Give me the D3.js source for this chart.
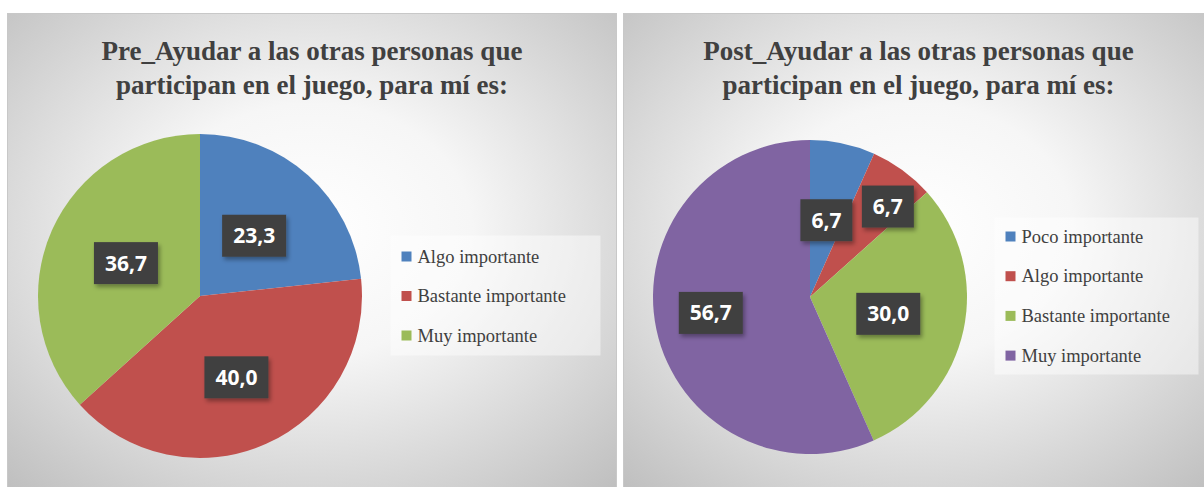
<!DOCTYPE html>
<html>
<head>
<meta charset="utf-8">
<script src="https://cdn.jsdelivr.net/npm/d3@7"></script>
<style>
  body { margin: 0; background: #fff; }
  svg { display: block; }
  .serif { font-family: "Liberation Serif", "Tinos", "DejaVu Serif", "Noto Serif", "Times New Roman", Times, serif; }
</style>
</head>
<body>
<svg id="chart"></svg>
<script>
// data
var preCategories = ["Algo importante", "Bastante importante", "Muy importante"];
var preValues = [23.3, 40.0, 36.7];
var preColors = ["#4F81BD", "#C0504D", "#9BBB59"];

var postCategories = ["Poco importante", "Algo importante", "Bastante importante", "Muy importante"];
var postValues = [6.7, 6.7, 30.0, 56.7];
var postColors = ["#4F81BD", "#C0504D", "#9BBB59", "#8064A2"];

var preTitle = ["Pre_Ayudar a las otras personas que", "participan en el juego, para mí es:"];
var postTitle = ["Post_Ayudar a las otras personas que", "participan en el juego, para mí es:"];

var svg = d3.select("#chart")
    .attr("width", 1204)
    .attr("height", 487);

var defs = svg.append("defs");
var grad = defs.append("radialGradient")
    .attr("id", "bg")
    .attr("cx", "50%").attr("cy", "45%").attr("r", "75%");
grad.append("stop").attr("offset", "0%").attr("stop-color", "#ffffff");
grad.append("stop").attr("offset", "35%").attr("stop-color", "#f6f6f6");
grad.append("stop").attr("offset", "100%").attr("stop-color", "#bdbdbd");

var shadow = defs.append("filter").attr("id", "shadow")
    .attr("x", "-20%").attr("y", "-20%").attr("width", "150%").attr("height", "160%");
shadow.append("feDropShadow")
    .attr("dx", 2).attr("dy", 3).attr("stdDeviation", 2)
    .attr("flood-color", "#000").attr("flood-opacity", 0.35);

function drawPanel(opt) {
  var g = svg.append("g").attr("transform", "translate(" + opt.x + "," + opt.y + ")");

  g.append("rect")
    .attr("width", opt.w)
    .attr("height", opt.h)
    .attr("fill", "url(#bg)")
    .attr("stroke", "#c8c8c8");

  // title
  g.append("text")
    .attr("class", "serif")
    .attr("x", opt.w / 2)
    .attr("y", 46)
    .attr("text-anchor", "middle")
    .style("font-weight", "bold")
    .style("font-size", "27px")
    .style("fill", "#404040")
    .selectAll("tspan")
    .data(opt.title)
    .enter().append("tspan")
      .attr("x", opt.w / 2)
      .attr("dy", function(d, i) { return i == 0 ? 0 : 34; })
      .text(function(d) { return d; });

  // pie
  var pie = d3.pie().sort(null).value(function(d) { return d; });
  var arcs = pie(opt.values);
  var arc = d3.arc().innerRadius(0).outerRadius(opt.r);

  var pg = g.append("g").attr("transform", "translate(" + opt.cx + "," + opt.cy + ")");
  pg.selectAll("path")
    .data(arcs)
    .enter().append("path")
      .attr("d", arc)
      .attr("fill", function(d, i) { return opt.colors[i]; });

  // data labels
  var lab = pg.selectAll("g.lab")
    .data(arcs)
    .enter().append("g")
      .attr("class", "lab")
      .attr("transform", function(d, i) {
        var rr = opt.r * opt.labelR[i];
        var a = (d.startAngle + d.endAngle) / 2 + (opt.labelA ? opt.labelA[i] : 0);
        return "translate(" + (Math.sin(a) * rr) + "," + (-Math.cos(a) * rr) + ")";
      });
  lab.append("rect")
    .attr("x", function(d) { return d.value >= 10 ? -32 : -26; })
    .attr("y", -21)
    .attr("width", function(d) { return d.value >= 10 ? 64 : 52; })
    .attr("height", 42)
    .attr("fill", "#404040")
    .attr("filter", "url(#shadow)");
  lab.append("text")
    .attr("text-anchor", "middle")
    .attr("dy", "0.36em")
    .style("font-family", "'Open Sans', 'DejaVu Sans', sans-serif")
    .style("font-weight", "bold")
    .style("font-size", "21px")
    .style("fill", "#fff")
    .text(function(d) { return d3.format(".1f")(d.value).replace(".", ","); });

  // legend
  var lg = g.append("g").attr("transform", "translate(" + opt.lx + "," + opt.ly + ")");
  lg.append("rect")
    .attr("width", opt.lw)
    .attr("height", opt.lh)
    .attr("fill", "#ffffff")
    .attr("fill-opacity", 0.45);
  var item = lg.selectAll("g.item")
    .data(opt.categories)
    .enter().append("g")
      .attr("class", "item")
      .attr("transform", function(d, i) { return "translate(11," + (opt.lfirst + i * opt.lstep) + ")"; });
  item.append("rect")
    .attr("x", 0).attr("y", -5)
    .attr("width", 10).attr("height", 10)
    .attr("fill", function(d, i) { return opt.colors[i]; });
  item.append("text")
    .attr("class", "serif")
    .attr("x", 16)
    .attr("dy", "0.33em")
    .style("font-size", "18.5px")
    .style("fill", "#404040")
    .text(function(d) { return d; });
}

drawPanel({
  x: 7.5, y: 13.5, w: 609, h: 480,
  title: preTitle, values: preValues, colors: preColors, categories: preCategories,
  cx: 192.5, cy: 282.5, r: 162,
  labelR: [0.5, 0.55, 0.5],
  lx: 383, ly: 222, lw: 210, lh: 120, lfirst: 21, lstep: 39.5
});

drawPanel({
  x: 623.5, y: 13.5, w: 590, h: 480,
  title: postTitle, values: postValues, colors: postColors, categories: postCategories,
  cx: 186.5, cy: 283.5, r: 157,
  labelR: [0.5, 0.76, 0.51, 0.64],
  labelA: [0, 0.08, 0, 0.05],
  lx: 371, ly: 204, lw: 204, lh: 157, lfirst: 19, lstep: 39.7
});
</script>
</body>
</html>
